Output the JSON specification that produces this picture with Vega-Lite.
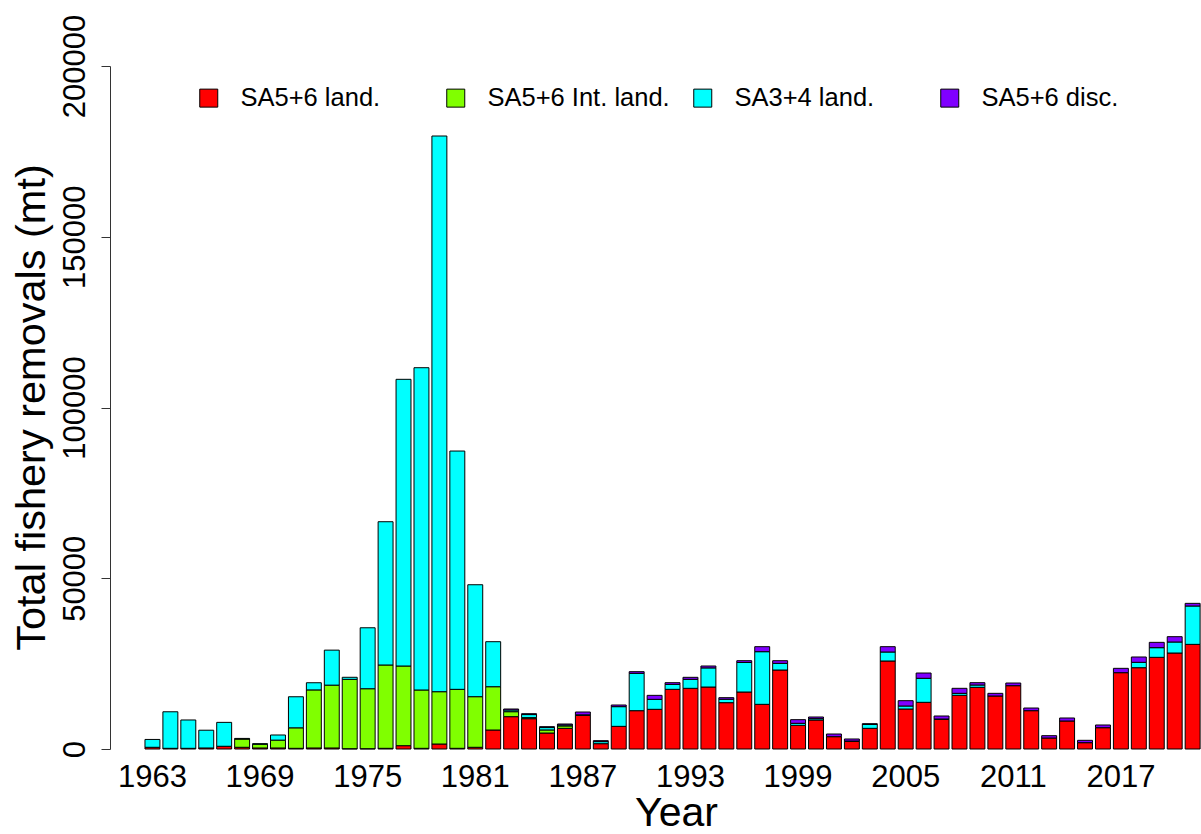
{
  "$schema": "https://vega.github.io/schema/vega-lite/v6.json",
  "width": 1091,
  "height": 683,
  "autosize": {"type": "none"},
  "padding": {"left": 110, "top": 66, "right": 0, "bottom": 85},
  "background": "white",
  "config": {
    "view": {"stroke": null},
    "font": "Liberation Sans",
    "axis": {"grid": false, "labelFont": "Liberation Sans", "titleFont": "Liberation Sans", "labelColor": "black", "titleColor": "black", "titleFontWeight": "normal"},
    "legend": {"labelFont": "Liberation Sans"}
  },
  "data": {
    "values": [
      {"year":1963,"series":"SA5+6 land.","value":500},{"year":1963,"series":"SA3+4 land.","value":2300},
      {"year":1964,"series":"SA5+6 land.","value":200},{"year":1964,"series":"SA3+4 land.","value":10700},
      {"year":1965,"series":"SA5+6 land.","value":200},{"year":1965,"series":"SA3+4 land.","value":8300},
      {"year":1966,"series":"SA5+6 land.","value":300},{"year":1966,"series":"SA3+4 land.","value":5200},
      {"year":1967,"series":"SA5+6 land.","value":800},{"year":1967,"series":"SA3+4 land.","value":7000},
      {"year":1968,"series":"SA5+6 land.","value":500},{"year":1968,"series":"SA5+6 Int. land.","value":2400},{"year":1968,"series":"SA3+4 land.","value":200},
      {"year":1969,"series":"SA5+6 land.","value":300},{"year":1969,"series":"SA5+6 Int. land.","value":1100},{"year":1969,"series":"SA3+4 land.","value":150},
      {"year":1970,"series":"SA5+6 land.","value":300},{"year":1970,"series":"SA5+6 Int. land.","value":2300},{"year":1970,"series":"SA3+4 land.","value":1500},
      {"year":1971,"series":"SA5+6 land.","value":200},{"year":1971,"series":"SA5+6 Int. land.","value":6000},{"year":1971,"series":"SA3+4 land.","value":9100},
      {"year":1972,"series":"SA5+6 land.","value":300},{"year":1972,"series":"SA5+6 Int. land.","value":17000},{"year":1972,"series":"SA3+4 land.","value":2100},
      {"year":1973,"series":"SA5+6 land.","value":300},{"year":1973,"series":"SA5+6 Int. land.","value":18400},{"year":1973,"series":"SA3+4 land.","value":10250},
      {"year":1974,"series":"SA5+6 land.","value":100},{"year":1974,"series":"SA5+6 Int. land.","value":20300},{"year":1974,"series":"SA3+4 land.","value":600},
      {"year":1975,"series":"SA5+6 land.","value":100},{"year":1975,"series":"SA5+6 Int. land.","value":17550},{"year":1975,"series":"SA3+4 land.","value":17850},
      {"year":1976,"series":"SA5+6 land.","value":200},{"year":1976,"series":"SA5+6 Int. land.","value":24400},{"year":1976,"series":"SA3+4 land.","value":41950},
      {"year":1977,"series":"SA5+6 land.","value":970},{"year":1977,"series":"SA5+6 Int. land.","value":23330},{"year":1977,"series":"SA3+4 land.","value":83950},
      {"year":1978,"series":"SA5+6 land.","value":200},{"year":1978,"series":"SA5+6 Int. land.","value":17080},{"year":1978,"series":"SA3+4 land.","value":94370},
      {"year":1979,"series":"SA5+6 land.","value":1460},{"year":1979,"series":"SA5+6 Int. land.","value":15320},{"year":1979,"series":"SA3+4 land.","value":162720},
      {"year":1980,"series":"SA5+6 land.","value":200},{"year":1980,"series":"SA5+6 Int. land.","value":17270},{"year":1980,"series":"SA3+4 land.","value":69780},
      {"year":1981,"series":"SA5+6 land.","value":500},{"year":1981,"series":"SA5+6 Int. land.","value":14820},{"year":1981,"series":"SA3+4 land.","value":32780},
      {"year":1982,"series":"SA5+6 land.","value":5560},{"year":1982,"series":"SA5+6 Int. land.","value":12680},{"year":1982,"series":"SA3+4 land.","value":13180},
      {"year":1983,"series":"SA5+6 land.","value":9470},{"year":1983,"series":"SA5+6 Int. land.","value":1460},{"year":1983,"series":"SA3+4 land.","value":500},{"year":1983,"series":"SA5+6 disc.","value":280},
      {"year":1984,"series":"SA5+6 land.","value":8880},{"year":1984,"series":"SA5+6 Int. land.","value":300},{"year":1984,"series":"SA3+4 land.","value":900},{"year":1984,"series":"SA5+6 disc.","value":260},
      {"year":1985,"series":"SA5+6 land.","value":4680},{"year":1985,"series":"SA5+6 Int. land.","value":900},{"year":1985,"series":"SA3+4 land.","value":700},{"year":1985,"series":"SA5+6 disc.","value":260},
      {"year":1986,"series":"SA5+6 land.","value":6050},{"year":1986,"series":"SA5+6 Int. land.","value":700},{"year":1986,"series":"SA3+4 land.","value":300},{"year":1986,"series":"SA5+6 disc.","value":270},
      {"year":1987,"series":"SA5+6 land.","value":9860},{"year":1987,"series":"SA3+4 land.","value":150},{"year":1987,"series":"SA5+6 disc.","value":820},
      {"year":1988,"series":"SA5+6 land.","value":1560},{"year":1988,"series":"SA3+4 land.","value":600},{"year":1988,"series":"SA5+6 disc.","value":280},
      {"year":1989,"series":"SA5+6 land.","value":6630},{"year":1989,"series":"SA3+4 land.","value":5770},{"year":1989,"series":"SA5+6 disc.","value":480},
      {"year":1990,"series":"SA5+6 land.","value":11220},{"year":1990,"series":"SA3+4 land.","value":10940},{"year":1990,"series":"SA5+6 disc.","value":480},
      {"year":1991,"series":"SA5+6 land.","value":11620},{"year":1991,"series":"SA3+4 land.","value":2920},{"year":1991,"series":"SA5+6 disc.","value":1170},
      {"year":1992,"series":"SA5+6 land.","value":17470},{"year":1992,"series":"SA3+4 land.","value":1450},{"year":1992,"series":"SA5+6 disc.","value":500},
      {"year":1993,"series":"SA5+6 land.","value":17770},{"year":1993,"series":"SA3+4 land.","value":2630},{"year":1993,"series":"SA5+6 disc.","value":590},
      {"year":1994,"series":"SA5+6 land.","value":18150},{"year":1994,"series":"SA3+4 land.","value":5600},{"year":1994,"series":"SA5+6 disc.","value":550},
      {"year":1995,"series":"SA5+6 land.","value":13570},{"year":1995,"series":"SA3+4 land.","value":1000},{"year":1995,"series":"SA5+6 disc.","value":460},
      {"year":1996,"series":"SA5+6 land.","value":16690},{"year":1996,"series":"SA3+4 land.","value":8650},{"year":1996,"series":"SA5+6 disc.","value":520},
      {"year":1997,"series":"SA5+6 land.","value":13080},{"year":1997,"series":"SA3+4 land.","value":15420},{"year":1997,"series":"SA5+6 disc.","value":1460},
      {"year":1998,"series":"SA5+6 land.","value":23130},{"year":1998,"series":"SA3+4 land.","value":1950},{"year":1998,"series":"SA5+6 disc.","value":780},
      {"year":1999,"series":"SA5+6 land.","value":6930},{"year":1999,"series":"SA3+4 land.","value":590},{"year":1999,"series":"SA5+6 disc.","value":1070},
      {"year":2000,"series":"SA5+6 land.","value":8490},{"year":2000,"series":"SA3+4 land.","value":400},{"year":2000,"series":"SA5+6 disc.","value":480},
      {"year":2001,"series":"SA5+6 land.","value":3610},{"year":2001,"series":"SA5+6 disc.","value":780},
      {"year":2002,"series":"SA5+6 land.","value":2250},{"year":2002,"series":"SA3+4 land.","value":100},{"year":2002,"series":"SA5+6 disc.","value":580},
      {"year":2003,"series":"SA5+6 land.","value":6050},{"year":2003,"series":"SA3+4 land.","value":1120},{"year":2003,"series":"SA5+6 disc.","value":250},
      {"year":2004,"series":"SA5+6 land.","value":25770},{"year":2004,"series":"SA3+4 land.","value":2630},{"year":2004,"series":"SA5+6 disc.","value":1560},
      {"year":2005,"series":"SA5+6 land.","value":11710},{"year":2005,"series":"SA3+4 land.","value":880},{"year":2005,"series":"SA5+6 disc.","value":1560},
      {"year":2006,"series":"SA5+6 land.","value":13670},{"year":2006,"series":"SA3+4 land.","value":7030},{"year":2006,"series":"SA5+6 disc.","value":1550},
      {"year":2007,"series":"SA5+6 land.","value":8690},{"year":2007,"series":"SA3+4 land.","value":100},{"year":2007,"series":"SA5+6 disc.","value":870},
      {"year":2008,"series":"SA5+6 land.","value":15720},{"year":2008,"series":"SA3+4 land.","value":580},{"year":2008,"series":"SA5+6 disc.","value":1470},
      {"year":2009,"series":"SA5+6 land.","value":18060},{"year":2009,"series":"SA3+4 land.","value":680},{"year":2009,"series":"SA5+6 disc.","value":680},
      {"year":2010,"series":"SA5+6 land.","value":15520},{"year":2010,"series":"SA5+6 disc.","value":780},
      {"year":2011,"series":"SA5+6 land.","value":18540},{"year":2011,"series":"SA5+6 disc.","value":780},
      {"year":2012,"series":"SA5+6 land.","value":11220},{"year":2012,"series":"SA5+6 disc.","value":780},
      {"year":2013,"series":"SA5+6 land.","value":3220},{"year":2013,"series":"SA5+6 disc.","value":680},
      {"year":2014,"series":"SA5+6 land.","value":8200},{"year":2014,"series":"SA5+6 disc.","value":880},
      {"year":2015,"series":"SA5+6 land.","value":1850},{"year":2015,"series":"SA5+6 disc.","value":690},
      {"year":2016,"series":"SA5+6 land.","value":6240},{"year":2016,"series":"SA5+6 disc.","value":790},
      {"year":2017,"series":"SA5+6 land.","value":22350},{"year":2017,"series":"SA5+6 disc.","value":1270},
      {"year":2018,"series":"SA5+6 land.","value":23810},{"year":2018,"series":"SA3+4 land.","value":1570},{"year":2018,"series":"SA5+6 disc.","value":1560},
      {"year":2019,"series":"SA5+6 land.","value":26840},{"year":2019,"series":"SA3+4 land.","value":2830},{"year":2019,"series":"SA5+6 disc.","value":1560},
      {"year":2020,"series":"SA5+6 land.","value":28110},{"year":2020,"series":"SA3+4 land.","value":3220},{"year":2020,"series":"SA5+6 disc.","value":1560},
      {"year":2021,"series":"SA5+6 land.","value":30640},{"year":2021,"series":"SA3+4 land.","value":11230},{"year":2021,"series":"SA5+6 disc.","value":780}
    ]
  },
  "transform": [
    {"calculate": "indexof(['SA5+6 land.','SA5+6 Int. land.','SA3+4 land.','SA5+6 disc.'], datum.series)", "as": "stackOrder"}
  ],
  "mark": {"type": "bar", "stroke": "black", "strokeWidth": 1},
  "encoding": {
    "x": {
      "field": "year",
      "type": "ordinal",
      "scale": {"paddingInner": 0.1667, "paddingOuter": 1.2415, "align": 0.975},
      "axis": {
        "values": [1963, 1969, 1975, 1981, 1987, 1993, 1999, 2005, 2011, 2017],
        "labelAngle": 0,
        "labelFontSize": 31,
        "labelBaseline": "alphabetic",
        "labelPadding": 37.7,
        "ticks": false,
        "tickSize": 0,
        "domain": false,
        "title": "Year",
        "titleFontSize": 41,
        "titleBaseline": "alphabetic",
        "titleAnchor": "start",
        "titleAlign": "center",
        "titleX": 566,
        "titleY": 76
      }
    },
    "y": {
      "field": "value",
      "type": "quantitative",
      "stack": "zero",
      "scale": {"domain": [0, 200000], "nice": false, "zero": true},
      "axis": {
        "values": [0, 50000, 100000, 150000, 200000],
        "format": "d",
        "labelAngle": -90,
        "labelAlign": "center",
        "labelBaseline": "alphabetic",
        "labelFontSize": 31,
        "labelPadding": 17,
        "labelFlush": false,
        "labelOverlap": false,
        "tickSize": 9,
        "tickColor": "#333",
        "domainColor": "#333",
        "title": "Total fishery removals (mt)",
        "titleFontSize": 41.5,
        "titleAngle": -90,
        "titleAlign": "center",
        "titleAnchor": "start",
        "titleBaseline": "alphabetic",
        "titleX": -65.5,
        "titleY": 341
      }
    },
    "color": {
      "field": "series",
      "type": "nominal",
      "scale": {
        "domain": ["SA5+6 land.", "SA5+6 Int. land.", "SA3+4 land.", "SA5+6 disc."],
        "range": ["#FF0000", "#80FF00", "#00FFFF", "#8000FF"]
      },
      "legend": {
        "title": null,
        "orient": "none",
        "legendX": 86,
        "legendY": 19,
        "direction": "horizontal",
        "columns": 4,
        "gridAlign": "all",
        "columnPadding": 20,
        "padding": 0,
        "symbolType": "square",
        "symbolSize": 324,
        "symbolStrokeColor": "black",
        "symbolStrokeWidth": 1,
        "symbolOpacity": 1,
        "labelFontSize": 25.5,
        "labelColor": "black",
        "labelOffset": 19,
        "labelLimit": 400
      }
    },
    "order": {"field": "stackOrder", "type": "quantitative", "sort": "ascending"}
  }
}
